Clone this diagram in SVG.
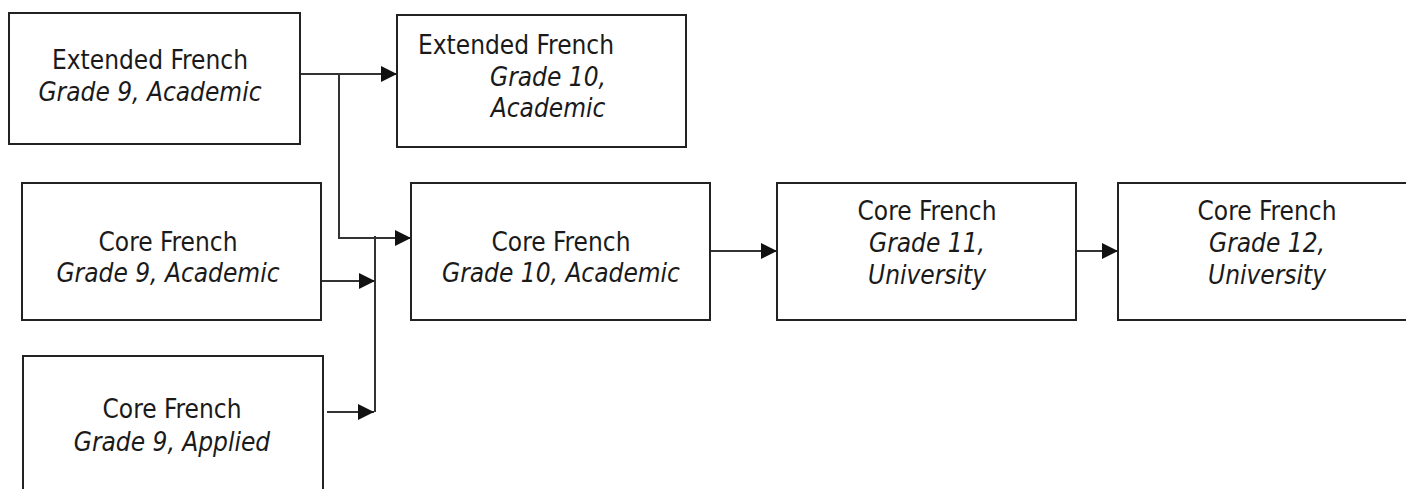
<svg xmlns="http://www.w3.org/2000/svg" width="1406" height="489" viewBox="0 0 1406 489">
<style>
.box{fill:#fff;stroke:#222;stroke-width:2}
.t{font-family:"DejaVu Sans Condensed","DejaVu Sans",sans-serif;font-stretch:condensed;font-size:26px;fill:#1a1a1a;text-anchor:middle}
.i{font-style:italic}
.c{fill:none;stroke:#333;stroke-width:2}
</style>
<defs>
<marker id="ah" markerUnits="userSpaceOnUse" markerWidth="16" markerHeight="16" viewBox="0 0 14 14" refX="14" refY="7" orient="auto">
<path d="M0,0 L14,7 L0,14 z" fill="#111"/>
</marker>
</defs>
<rect width="1406" height="489" fill="#fff"/>
<g id="connectors">
<path class="c" d="M301,74 H397" marker-end="url(#ah)"/>
<path class="c" d="M339,74 V238 H374"/>
<path class="c" d="M375,236 V412"/>
<path class="c" d="M374,238 H411" marker-end="url(#ah)"/>
<path class="c" d="M322,281 H375" marker-end="url(#ah)"/>
<path class="c" d="M327,412 H374" marker-end="url(#ah)"/>
<path class="c" d="M710,251 H777" marker-end="url(#ah)"/>
<path class="c" d="M1076,251 H1118" marker-end="url(#ah)"/>
</g>
<g id="ext9">
<rect class="box" x="9" y="13" width="291" height="131"/>
<text class="t" x="150" y="69">Extended French</text>
<text class="t i" x="150" y="101">Grade 9, Academic</text>
</g>
<g id="ext10">
<rect class="box" x="397" y="15" width="289" height="132"/>
<text class="t" x="418" y="54" style="text-anchor:start">Extended French</text>
<text class="t i" x="548" y="86">Grade 10,</text>
<text class="t i" x="548" y="117">Academic</text>
</g>
<g id="core9a">
<rect class="box" x="22" y="183" width="299" height="137"/>
<text class="t" x="168" y="251">Core French</text>
<text class="t i" x="168" y="282">Grade 9, Academic</text>
</g>
<g id="core9p">
<rect class="box" x="23" y="356" width="300" height="150"/>
<text class="t" x="172" y="418">Core French</text>
<text class="t i" x="172" y="451">Grade 9, Applied</text>
</g>
<g id="core10">
<rect class="box" x="411" y="183" width="299" height="137"/>
<text class="t" x="561" y="251">Core French</text>
<text class="t i" x="561" y="282">Grade 10, Academic</text>
</g>
<g id="core11">
<rect class="box" x="777" y="183" width="299" height="137"/>
<text class="t" x="927" y="220">Core French</text>
<text class="t i" x="927" y="252">Grade 11,</text>
<text class="t i" x="927" y="284">University</text>
</g>
<g id="core12">
<rect class="box" x="1118" y="183" width="310" height="137"/>
<text class="t" x="1267" y="220">Core French</text>
<text class="t i" x="1267" y="252">Grade 12,</text>
<text class="t i" x="1267" y="284">University</text>
</g>
</svg>
